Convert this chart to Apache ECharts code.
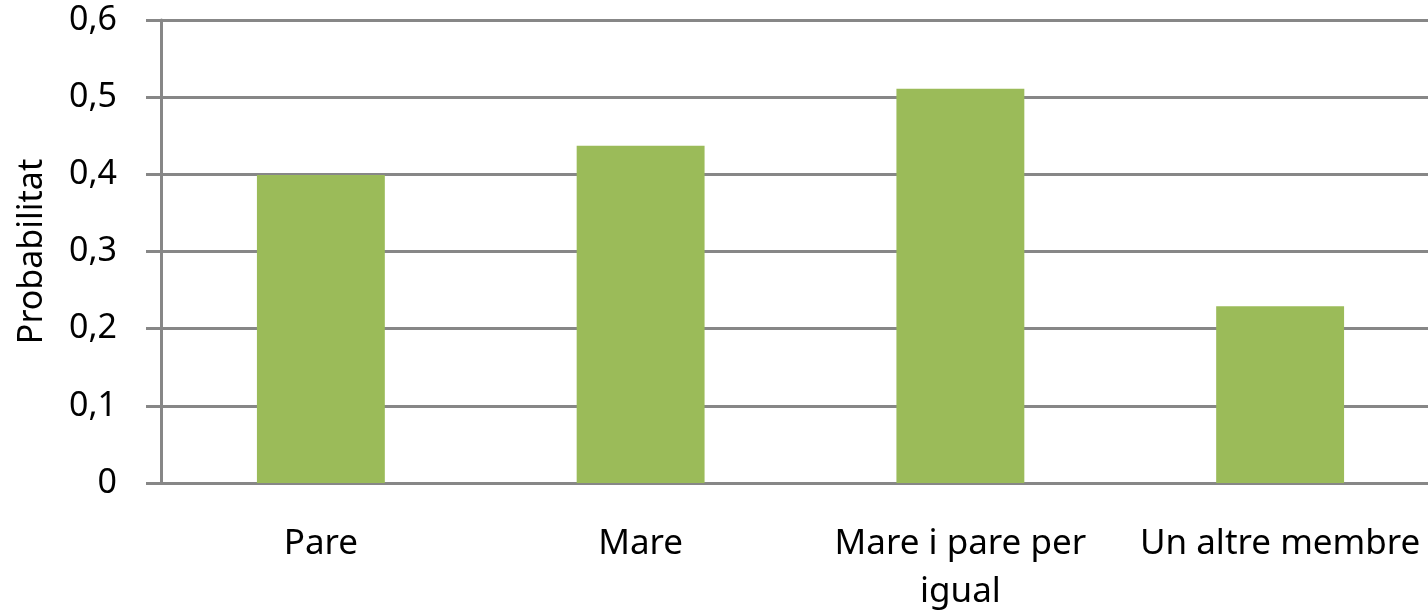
<!DOCTYPE html>
<html>
<head>
<meta charset="utf-8">
<script src="https://cdn.jsdelivr.net/npm/echarts@6/dist/echarts.min.js"></script>
<style>
  html, body { margin: 0; padding: 0; background: #fff; }
  #chart { width: 1428px; height: 610px; }
</style>
</head>
<body>
<div id="chart"></div>
<script>
var categories = ['Pare', 'Mare', 'Mare i pare per\nigual', 'Un altre membre'];
var probabilitat = [0.399, 0.437, 0.511, 0.229];
var yTicks = ['0', '0,1', '0,2', '0,3', '0,4', '0,5', '0,6'];

var myChart = echarts.init(document.getElementById('chart'));
var axisColor = '#878787';
var font = '"Noto Sans", "Open Sans", sans-serif';

var option = {
	animation: false,
	grid: {
		left: 161,
		top: 20,
		width: 1279,
		height: 463,
		outerBoundsMode: 'none',
		containLabel: false
	},
	xAxis: {
		type: 'category',
		data: categories,
		axisLine: { lineStyle: { color: axisColor, width: 3 } },
		axisTick: { show: false },
		axisLabel: {
			color: '#000',
			fontFamily: font,
			fontSize: 35,
			margin: 37,
			lineHeight: 48,
			interval: 0,
			hideOverlap: false
		}
	},
	yAxis: {
		type: 'value',
		min: 0,
		max: 0.6,
		interval: 0.1,
		name: 'Probabilitat',
		nameLocation: 'middle',
		nameGap: 112,
		nameTextStyle: { color: '#000', fontFamily: font, fontSize: 34 },
		axisLine: { show: true, lineStyle: { color: axisColor, width: 3 } },
		axisTick: { show: true, length: 15, lineStyle: { color: axisColor, width: 3 } },
		splitLine: { lineStyle: { color: axisColor, width: 3 } },
		axisLabel: {
			color: '#000',
			fontFamily: font,
			fontSize: 34,
			margin: 44,
			formatter: function (v) {
				return yTicks[Math.round(v * 10)];
			}
		}
	},
	series: [{
		type: 'bar',
		data: probabilitat,
		barWidth: '40%',
		itemStyle: { color: '#9BBB59' }
	}]
};
myChart.setOption(option);
</script>
</body>
</html>
